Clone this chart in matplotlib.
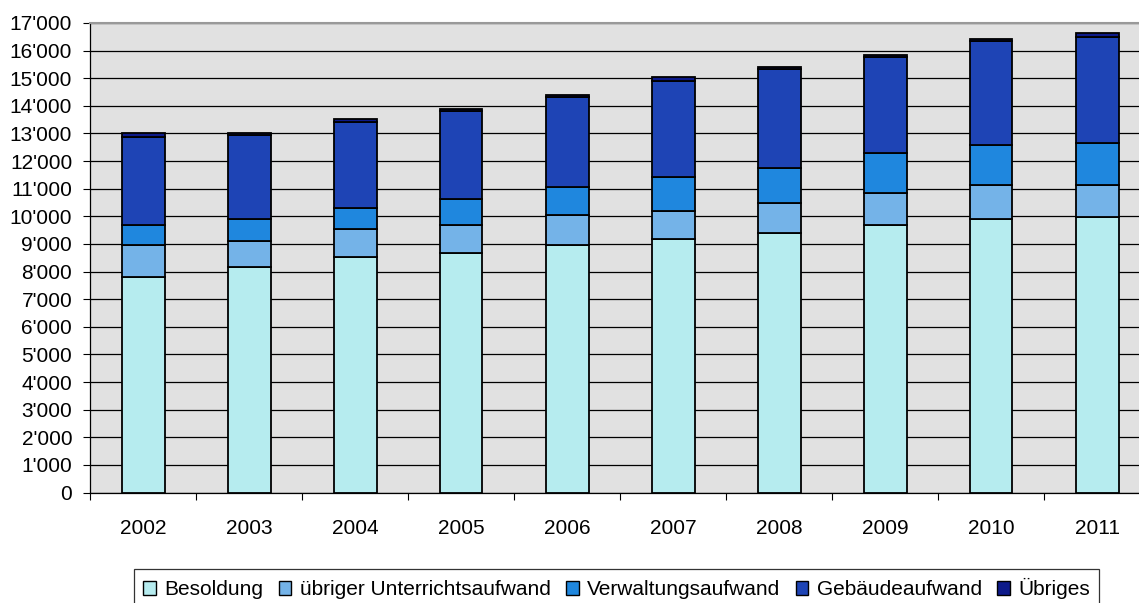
import matplotlib
matplotlib.use("Agg")
import matplotlib.pyplot as plt
from matplotlib.ticker import FuncFormatter, FixedLocator
from matplotlib.patches import Patch
import numpy as np

years = ["2002", "2003", "2004", "2005", "2006", "2007", "2008", "2009", "2010", "2011"]
besoldung = [7790, 8150, 8525, 8660, 8950, 9165, 9385, 9675, 9890, 9965]
unterricht = [1160, 955, 1015, 1015, 1085, 1015, 1085, 1170, 1230, 1170]
verwaltung = [725, 795, 770, 940, 1015, 1230, 1290, 1435, 1450, 1505]
gebaeude = [3195, 3030, 3115, 3185, 3280, 3490, 3575, 3500, 3765, 3840]
uebriges = [145, 85, 110, 85, 50, 145, 60, 50, 70, 145]

series_names = ["Besoldung", "übriger Unterrichtsaufwand", "Verwaltungsaufwand",
                "Gebäudeaufwand", "Übriges"]
series_values = [besoldung, unterricht, verwaltung, gebaeude, uebriges]
colors = ["#B6ECEF", "#74B3E8", "#1F87DE", "#1E44B5", "#0D1A8A"]

plt.rcParams["font.family"] = ["Liberation Sans", "DejaVu Sans"]

W, H = 1139, 603
fig = plt.figure(figsize=(W / 100, H / 100), dpi=100)
left_px, right_px, top_px, bottom_px = 90.3, 1150.3, 23, 492.5
ax = fig.add_axes([left_px / W, 1 - bottom_px / H,
                   (right_px - left_px) / W, (bottom_px - top_px) / H])
ax.set_facecolor("#E1E1E1")

x = np.arange(len(years))
bottom = np.zeros(len(years))
for name, vals, col in zip(series_names, series_values, colors):
    ax.bar(x, vals, width=0.4, bottom=bottom, color=col, edgecolor="black",
           linewidth=1.3, label=name, zorder=3)
    bottom += np.array(vals)

ax.set_xlim(-0.5, len(years) - 0.5)
ax.set_ylim(0, 17000)
ax.set_yticks(np.arange(0, 17001, 1000))
ax.yaxis.set_major_formatter(FuncFormatter(lambda v, p: f"{int(v):,}".replace(",", "'")))
ax.grid(axis="y", color="black", linewidth=0.9, zorder=1)
ax.set_axisbelow(True)

ax.xaxis.set_major_locator(FixedLocator(np.arange(-0.5, len(years), 1.0)))
ax.xaxis.set_minor_locator(FixedLocator(x))
ax.set_xticklabels([], minor=False)
ax.set_xticklabels(years, minor=True)
ax.tick_params(axis="x", which="major", length=5, width=0.8, direction="out", color="black")
ax.tick_params(axis="x", which="minor", length=0, pad=19, labelsize=15)
ax.tick_params(axis="y", length=5, width=0.8, direction="out", labelsize=15, pad=8)

for side in ["left", "bottom"]:
    ax.spines[side].set_color("black")
    ax.spines[side].set_linewidth(0.9)
ax.spines["top"].set_color("#999999")
ax.spines["top"].set_linewidth(1.5)
ax.spines["right"].set_visible(False)

handles = [Patch(facecolor=c, edgecolor="black", linewidth=1.0) for c in colors]
leg = fig.legend(handles, series_names, ncol=5, loc="upper left",
                 bbox_to_anchor=(134 / W, 1 - 569 / H), fontsize=15,
                 frameon=True, fancybox=False, edgecolor="black",
                 handlelength=0.6, handleheight=0.6, handletextpad=0.4,
                 columnspacing=0.75, borderpad=0.45, borderaxespad=0)
leg.get_frame().set_linewidth(0.9)

fig.savefig("out.png", dpi=100)
